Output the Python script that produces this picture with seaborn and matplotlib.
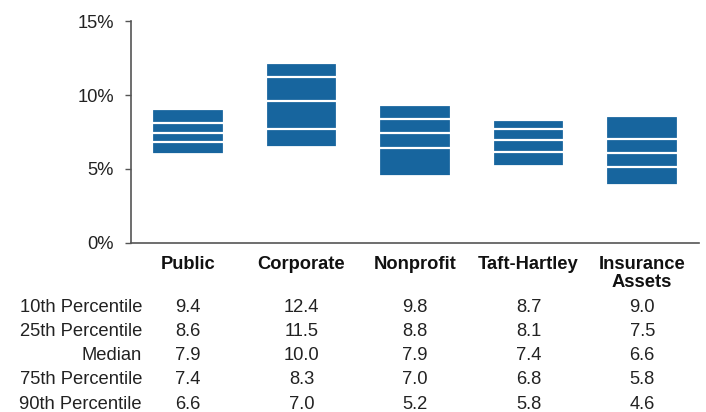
import numpy as np
import pandas as pd
import seaborn as sns
import matplotlib.pyplot as plt
import matplotlib.transforms as mtransforms

groups = ["Public", "Corporate", "Nonprofit", "Taft-Hartley", "Insurance\nAssets"]

# bar segment edges as drawn (percent)
bar_p10 = [9.05, 12.15, 9.35, 8.3, 8.6]
bar_p25 = [8.1, 11.25, 8.35, 7.7, 7.05]
bar_med = [7.4, 9.6, 7.4, 6.95, 6.1]
bar_p75 = [6.8, 7.7, 6.4, 6.15, 5.15]
bar_p90 = [6.0, 6.45, 4.5, 5.2, 3.9]

# table values
row_labels = ["10th Percentile", "25th Percentile", "Median", "75th Percentile", "90th Percentile"]
tab_p10 = ["9.4", "12.4", "9.8", "8.7", "9.0"]
tab_p25 = ["8.6", "11.5", "8.8", "8.1", "7.5"]
tab_med = ["7.9", "10.0", "7.9", "7.4", "6.6"]
tab_p75 = ["7.4", "8.3", "7.0", "6.8", "5.8"]
tab_p90 = ["6.6", "7.0", "5.2", "5.8", "4.6"]

sns.set_style("white")
plt.rcParams["font.family"] = ["Liberation Sans", "DejaVu Sans"]

blue = "#17659e"
txt = "#222222"
fs = 13.2
fig = plt.figure(figsize=(7.06, 4.12), dpi=100)
W, H = 706, 412
ax = fig.add_axes([131 / W, 1 - 242.7 / H, (699 - 131) / W, (242.7 - 21.3) / H])

df = pd.DataFrame({"group": groups, "p10": bar_p10, "p25": bar_p25,
                   "med": bar_med, "p75": bar_p75, "p90": bar_p90})

for col in ["p10", "p25", "med", "p75"]:
    sns.barplot(data=df, x="group", y=col, color=blue, saturation=1,
                edgecolor="white", linewidth=1.6, width=0.63, ax=ax)
sns.barplot(data=df, x="group", y="p90", color="white", saturation=1,
            edgecolor="white", linewidth=2, width=0.66, ax=ax)

ax.set_xlim(-0.5, 4.5)
ax.set_ylim(0, 15)
ax.set_yticks([0, 5, 10, 15])
ax.set_yticklabels(["0%", "5%", "10%", "15%"], fontsize=fs, color=txt)
ax.set_xticks([])
ax.set_xlabel("")
ax.set_ylabel("")
for s in ["top", "right"]:
    ax.spines[s].set_visible(False)
for s in ["left", "bottom"]:
    ax.spines[s].set_color("#555555")
    ax.spines[s].set_linewidth(1.2)
ax.tick_params(axis="y", length=4.3, width=1, color="#555555", left=True, pad=8)

trans = mtransforms.blended_transform_factory(ax.transData, fig.transFigure)
for i, g in enumerate(groups):
    ax.text(i, 1 - 256 / H, g, transform=trans, ha="center", va="top",
            fontsize=fs, fontweight="bold", color="#111111", linespacing=1.08)

rows = [tab_p10, tab_p25, tab_med, tab_p75, tab_p90]
row_y = [306, 330, 354, 378, 402.5]
for lab, vals, y in zip(row_labels, rows, row_y):
    yb = 1 - (y + 6.5) / H
    fig.text(142 / W, yb, lab, ha="right", va="baseline", fontsize=fs, color=txt)
    for i, v in enumerate(vals):
        ax.text(i, yb, v, transform=trans, ha="center", va="baseline",
                fontsize=fs, color=txt)

fig.savefig("out.png", dpi=100)
